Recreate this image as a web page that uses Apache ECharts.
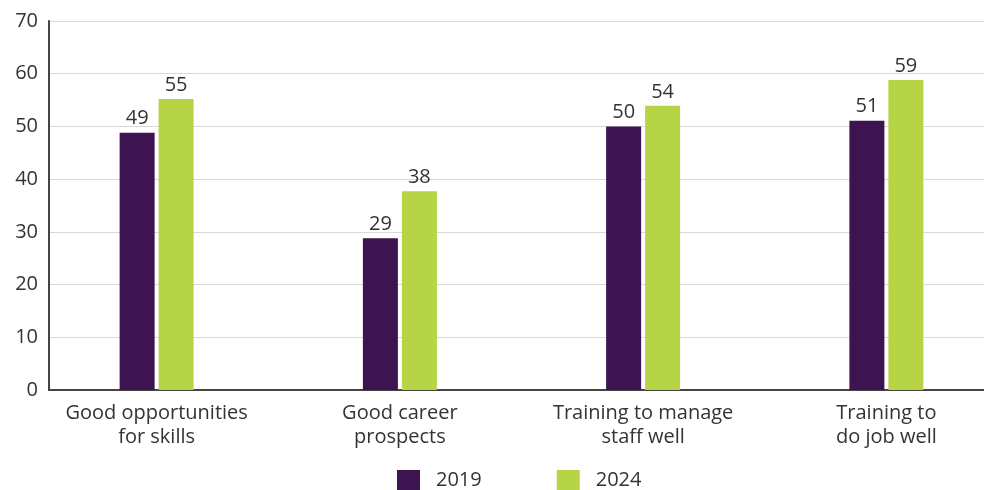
<!DOCTYPE html>
<html><head><meta charset="utf-8">
<script src="https://cdn.jsdelivr.net/npm/echarts@6/dist/echarts.min.js"></script>
<style>html,body{margin:0;padding:0;background:#fff}#c{width:984px;height:490px}</style>
</head><body><div id="c"></div>
<script>
const categories = ["Good opportunities\nfor skills", "Good career\nprospects", "Training to manage\nstaff well", "Training to\ndo job well"];
const series2019 = [48.8, 28.8, 50.0, 51.1];
const series2024 = [55.2, 37.7, 53.9, 58.8];
const seriesNames = ["2019", "2024"];
const yTicks = {min: 0, max: 70, interval: 10};

const FONT = "Open Sans";
const TXT = "#333333";
const chart = echarts.init(document.getElementById('c'), null, {renderer: 'canvas'});
const lbl = {show: true, position: 'top', distance: 4, color: TXT, fontFamily: FONT, fontSize: 20,
  formatter: p => Math.round(p.value)};
chart.setOption({
  animation: false,
  textStyle: {fontFamily: FONT},
  legend: {
    data: seriesNames, left: 397, top: 470, padding: 0, itemWidth: 23, itemHeight: 20, itemGap: 75,
    icon: 'rect', textStyle: {color: TXT, fontSize: 20, fontFamily: FONT, padding: [0, 0, 0, 11]}
  },
  grid: [
    {left: 49, right: 0, top: 21, bottom: 100, outerBoundsMode: 'none', containLabel: false},
    {left: 35, width: 973, top: 21, bottom: 100, outerBoundsMode: 'none', containLabel: false}
  ],
  xAxis: [
    {type: 'category', gridIndex: 0, data: categories, axisLine: {lineStyle: {color: '#444', width: 2}},
      axisTick: {show: false}, axisLabel: {show: false}},
    {type: 'category', gridIndex: 1, data: categories, axisLine: {show: false}, axisTick: {show: false},
      axisLabel: {color: TXT, fontSize: 20, fontFamily: FONT, lineHeight: 24, margin: 11}}
  ],
  yAxis: [
    {type: 'value', gridIndex: 0, min: yTicks.min, max: yTicks.max, interval: yTicks.interval,
      axisLine: {show: true, lineStyle: {color: '#444', width: 2}}, axisTick: {show: false},
      splitLine: {lineStyle: {color: '#d9d9d9', width: 1}},
      axisLabel: {color: TXT, fontSize: 20, fontFamily: FONT, margin: 11}},
    {type: 'value', gridIndex: 1, min: yTicks.min, max: yTicks.max, interval: yTicks.interval,
      show: false, splitLine: {show: false}}
  ],
  series: [
    {name: seriesNames[0], type: 'bar', xAxisIndex: 1, yAxisIndex: 1, data: series2019,
      barWidth: 35, barGap: '11.4%', itemStyle: {color: '#3d1350'}, label: lbl},
    {name: seriesNames[1], type: 'bar', xAxisIndex: 1, yAxisIndex: 1, data: series2024,
      barWidth: 35, barGap: '11.4%', itemStyle: {color: '#b6d445'}, label: lbl}
  ]
});
</script></body></html>
